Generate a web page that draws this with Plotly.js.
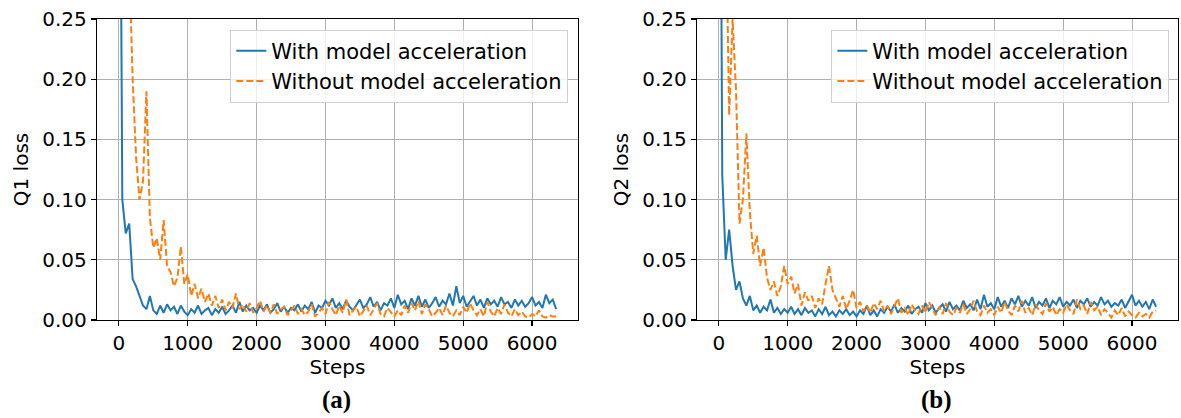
<!DOCTYPE html>
<html>
<head>
<meta charset="utf-8">
<script src="https://cdn.plot.ly/plotly-3.0.1.min.js"></script>
<style>
html,body{margin:0;padding:0;background:#fff;}
#chart{width:1181px;height:418px;}
</style>
</head>
<body>
<div id="chart"></div>
<script>
// Steps: recorded every 50 steps starting at 0
const stepStart = 0;
const stepSize = 50;

const seriesNames = ["With model acceleration", "Without model acceleration"];
const panelLabels = ["(a)", "(b)"];
const yTitles = ["Q1 loss", "Q2 loss"];
const xTitle = "Steps";
const yTickVals = [0, 0.05, 0.10, 0.15, 0.20, 0.25];
const xTickVals = [0, 1000, 2000, 3000, 4000, 5000, 6000];

const q1With = [
0.60,0.10,0.072,0.08,0.034,0.028,0.02,0.012,0.009,0.02,
0.008,0.005,0.012,0.006,0.013,0.008,0.011,0.005,0.012,0.007,
0.004,0.009,0.006,0.012,0.005,0.008,0.01,0.004,0.009,0.006,
0.011,0.005,0.008,0.012,0.006,0.015,0.007,0.012,0.008,0.01,
0.006,0.012,0.008,0.013,0.006,0.009,0.014,0.007,0.011,0.006,
0.01,0.008,0.013,0.007,0.012,0.009,0.015,0.006,0.012,0.01,
0.016,0.012,0.018,0.01,0.014,0.009,0.016,0.011,0.008,0.013,
0.017,0.01,0.013,0.019,0.011,0.015,0.008,0.014,0.012,0.018,
0.01,0.021,0.013,0.016,0.009,0.018,0.012,0.02,0.011,0.017,
0.01,0.014,0.019,0.011,0.016,0.013,0.022,0.012,0.028,0.014,
0.02,0.011,0.015,0.02,0.012,0.017,0.01,0.018,0.013,0.016,
0.011,0.019,0.013,0.015,0.01,0.017,0.012,0.016,0.011,0.014,
0.019,0.012,0.015,0.01,0.021,0.014,0.017,0.009
];

const q1Without = [
0.9,0.6,0.4,0.3,0.2,0.135,0.1,0.115,0.19,0.085,
0.06,0.068,0.05,0.083,0.045,0.04,0.028,0.035,0.061,0.03,
0.038,0.02,0.03,0.018,0.026,0.015,0.022,0.012,0.02,0.01,
0.017,0.008,0.015,0.01,0.022,0.009,0.013,0.007,0.014,0.006,
0.01,0.016,0.007,0.012,0.006,0.013,0.005,0.009,0.011,0.004,
0.008,0.012,0.005,0.009,0.004,0.007,0.013,0.003,0.006,0.01,
0.005,0.015,0.009,0.004,0.012,0.006,0.017,0.004,0.008,0.011,
0.003,0.007,0.012,0.004,0.009,0.014,0.005,0.003,0.01,0.006,
0.003,0.008,0.004,0.012,0.006,0.014,0.008,0.016,0.005,0.013,
0.009,0.003,0.006,0.01,0.004,0.012,0.006,0.003,0.008,0.004,
0.011,0.006,0.014,0.008,0.004,0.009,0.003,0.015,0.007,0.003,
0.01,0.005,0.013,0.006,0.003,0.009,0.004,0.007,0.003,0.002,
0.005,0.003,0.008,0.003,0.002,0.004,0.003,0.003
];

const q2With = [
0.7,0.12,0.05,0.075,0.045,0.025,0.032,0.018,0.012,0.02,
0.008,0.012,0.006,0.011,0.008,0.017,0.006,0.01,0.005,0.009,
0.006,0.011,0.005,0.009,0.004,0.01,0.006,0.008,0.003,0.009,
0.005,0.011,0.004,0.007,0.003,0.008,0.005,0.009,0.004,0.007,
0.003,0.008,0.005,0.012,0.004,0.008,0.003,0.009,0.006,0.011,
0.007,0.013,0.006,0.01,0.007,0.012,0.005,0.009,0.011,0.006,
0.014,0.008,0.012,0.006,0.01,0.013,0.007,0.015,0.009,0.012,
0.008,0.016,0.01,0.013,0.008,0.017,0.009,0.021,0.011,0.014,
0.009,0.019,0.011,0.016,0.01,0.018,0.013,0.02,0.011,0.016,
0.012,0.019,0.01,0.015,0.012,0.018,0.01,0.016,0.013,0.019,
0.011,0.015,0.012,0.017,0.01,0.016,0.013,0.018,0.011,0.015,
0.012,0.019,0.013,0.016,0.011,0.014,0.012,0.017,0.01,0.015,
0.021,0.012,0.016,0.011,0.015,0.009,0.017,0.011
];

const q2Without = [
1.0,0.6,0.35,0.17,0.25,0.19,0.08,0.1,0.155,0.09,
0.055,0.07,0.045,0.06,0.035,0.025,0.032,0.02,0.028,0.045,
0.03,0.036,0.022,0.03,0.012,0.023,0.016,0.02,0.01,0.018,
0.013,0.03,0.045,0.025,0.018,0.011,0.02,0.009,0.016,0.025,
0.01,0.015,0.007,0.012,0.006,0.014,0.009,0.016,0.007,0.012,
0.005,0.011,0.018,0.006,0.01,0.004,0.013,0.008,0.005,0.012,
0.006,0.015,0.009,0.004,0.011,0.005,0.014,0.007,0.004,0.01,
0.006,0.013,0.005,0.009,0.016,0.007,0.004,0.012,0.006,0.009,
0.004,0.011,0.006,0.015,0.008,0.004,0.012,0.007,0.016,0.006,
0.01,0.004,0.013,0.008,0.005,0.014,0.007,0.011,0.004,0.009,
0.006,0.013,0.008,0.005,0.017,0.009,0.012,0.005,0.015,0.008,
0.011,0.004,0.009,0.006,0.002,0.008,0.004,0.01,0.003,0.007,
0.004,0.002,0.006,0.003,0.005,0.002,0.007,0.008
];

const blue = "#1f77b4";
const orange = "#ff7f0e";
const font = "DejaVu Sans, sans-serif";
const fs = 20;

function lineTrace(y, name, color, dash, xa, ya, legend, show) {
  return {
    type: "scatter", mode: "lines", y: y, x0: stepStart, dx: stepSize,
    name: name, xaxis: xa, yaxis: ya, legend: legend, showlegend: show,
    line: {color: color, width: 2, dash: dash}
  };
}

const data = [
  lineTrace(q1With, seriesNames[0], blue, "solid", "x", "y", "legend", true),
  lineTrace(q1Without, seriesNames[1], orange, "7px,3px", "x", "y", "legend", true),
  lineTrace(q2With, seriesNames[0], blue, "solid", "x2", "y2", "legend2", true),
  lineTrace(q2Without, seriesNames[1], orange, "7px,3px", "x2", "y2", "legend2", true)
];

function xAxis(domain, anchor) {
  return {
    domain: domain, anchor: anchor, range: [-317.5, 6667.5],
    tickvals: xTickVals, ticks: "outside", ticklen: 5, tickwidth: 1.2, tickcolor: "#000",
    showline: true, linecolor: "#000", linewidth: 1.2, mirror: true,
    showgrid: true, gridcolor: "#b0b0b0", gridwidth: 1, zeroline: false,
    tickfont: {family: font, size: fs, color: "#000"},
    title: {text: xTitle, font: {family: font, size: fs, color: "#000"}, standoff: 4}
  };
}
function yAxis(title, anchor) {
  return {
    anchor: anchor, range: [0, 0.25],
    tickvals: yTickVals, tickformat: ".2f", ticks: "outside", ticklen: 5, tickwidth: 1.2, tickcolor: "#000",
    showline: true, linecolor: "#000", linewidth: 1.2, mirror: true,
    showgrid: true, gridcolor: "#b0b0b0", gridwidth: 1, zeroline: false,
    tickfont: {family: font, size: fs, color: "#000"},
    title: {text: title, font: {family: font, size: fs, color: "#000"}, standoff: 8}
  };
}
function legendBox(xRight) {
  return {
    x: xRight, y: 0.965, xanchor: "right", yanchor: "top",
    bgcolor: "rgba(255,255,255,0.8)", bordercolor: "#d0d0d0", borderwidth: 1,
    font: {family: font, size: 21, color: "#000"}
  };
}

const layout = {
  width: 1181, height: 418,
  margin: {l: 97, r: 3, t: 19, b: 98},
  paper_bgcolor: "#fff", plot_bgcolor: "#fff",
  font: {family: font, color: "#000"},
  xaxis: xAxis([0, 0.445], "y"),
  yaxis: yAxis(yTitles[0], "x"),
  xaxis2: xAxis([0.555, 1], "y2"),
  yaxis2: yAxis(yTitles[1], "x2"),
  legend: legendBox(0.436),
  legend2: legendBox(0.992),
  annotations: [
    {text: "<b>" + panelLabels[0] + "</b>", xref: "paper", yref: "paper", x: 0.222, y: -0.265, xanchor: "center", yanchor: "middle", showarrow: false, font: {family: "Liberation Serif, serif", size: 25, color: "#000"}},
    {text: "<b>" + panelLabels[1] + "</b>", xref: "paper", yref: "paper", x: 0.777, y: -0.265, xanchor: "center", yanchor: "middle", showarrow: false, font: {family: "Liberation Serif, serif", size: 25, color: "#000"}}
  ]
};

Plotly.newPlot("chart", data, layout, {staticPlot: true, displayModeBar: false});
</script>
</body>
</html>
